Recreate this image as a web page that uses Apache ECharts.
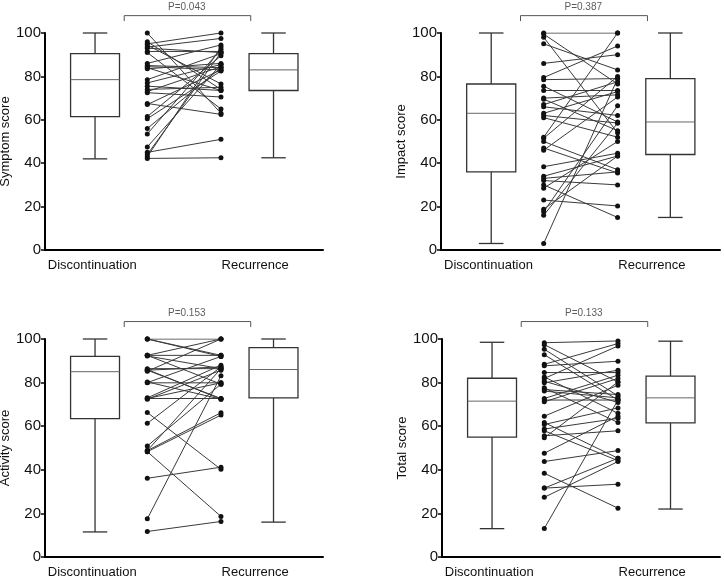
<!DOCTYPE html>
<html>
<head>
<meta charset="utf-8">
<script src="https://cdn.jsdelivr.net/npm/echarts@6/dist/echarts.min.js"></script>
<style>
html,body{margin:0;padding:0;background:#fff;}
#chart{width:724px;height:579px;}
</style>
</head>
<body>
<div id="chart"></div>
<script>
// ---- data ----
const categories = ['Discontinuation', 'Recurrence'];
const yTitles = ['Symptom score', 'Impact score', 'Activity score', 'Total score'];
const pLabels = ['P=0.043', 'P=0.387', 'P=0.153', 'P=0.133'];
const yTicks = [0, 20, 40, 60, 80, 100];

// box stats [min, Q1, median, Q3, max] for Discontinuation, Recurrence
const symptomBox = [[42, 61.5, 78.5, 90.5, 100], [42.5, 73.5, 83, 90.5, 100]];
const impactBox = [[3, 36, 63, 76.5, 100], [15, 44, 59, 79, 100]];
const activityBox = [[11.5, 63.5, 85, 92, 100], [16, 73, 86, 96, 100]];
const totalBox = [[13, 55, 71.5, 82, 98.5], [22, 61.5, 73, 83, 99]];

// paired individual values
const symptomDisc = [100, 96, 95, 94.5, 93.5, 93, 91.5, 91, 86, 85, 84.5, 84, 83.5, 78.5, 77, 75.5, 74, 73, 72.5, 67.5, 67, 61.5, 60.5, 56, 53.5, 47.5, 45, 44, 43, 42.2];
const symptomRec  = [63, 74, 100, 76.5, 97.5, 91, 91.5, 65, 94.5, 84, 83, 73.5, 86, 90.5, 85.5, 73.5, 75, 84.5, 70.5, 62.5, 83, 89.5, 82.5, 84, 92.5, 85.5, 51, 91, 93.5, 42.5];

const impactDisc = [100, 99.5, 98, 95, 86, 79.5, 78.5, 75.5, 73.5, 70, 69.5, 67, 66, 63, 62, 61, 52, 51.5, 50, 47, 46, 38.4, 34, 33, 32, 30, 28.5, 23, 18.8, 17.6, 16, 3];
const impactRec  = [100, 76.5, 54, 83, 90, 94, 79, 59, 73.5, 71.5, 55, 77.5, 62, 73, 58.5, 52, 100, 80, 37, 35.5, 70.5, 44.6, 43.3, 36, 30, 15, 50, 20.3, 43.3, 66.5, 58.5, 79];

const activityDisc = [100, 100, 100, 92.5, 92.5, 92.2, 92.5, 86.4, 85.7, 85.2, 85.7, 86, 80.3, 79.9, 80, 73, 72.7, 72.4, 72.7, 66.3, 61.3, 50.9, 48.8, 48.3, 48.8, 48.3, 36.1, 17.5, 11.7];
const activityRec  = [100, 92.5, 92, 100, 92.5, 86.4, 79.3, 86.4, 72.7, 100, 87.2, 72.4, 72.4, 79.9, 92, 88, 72.7, 85.7, 79.9, 40.2, 87.2, 79.3, 66.2, 65.1, 86.4, 18.6, 41.2, 83.1, 16.3];

const totalDisc = [98.3, 97.4, 95.3, 92.8, 88.4, 87.7, 84.6, 82.6, 81.9, 80.6, 79.9, 77.6, 76.8, 76.1, 72.7, 72, 71.2, 64.6, 61.7, 60.8, 58.7, 57.9, 55.6, 54.7, 47.6, 43.8, 38.4, 31.6, 31.6, 27.4, 13.1];
const totalRec  = [99.1, 80.3, 73.9, 72, 97.9, 89.8, 84.6, 65.9, 96.8, 70.9, 85.7, 61.7, 74.5, 73, 83.4, 72, 81.9, 78.8, 45.3, 68.4, 63.6, 44.2, 57.9, 80.3, 64.6, 48.8, 22.4, 33.4, 45.3, 43.8, 72];

const boxes = [symptomBox, impactBox, activityBox, totalBox];
const discs = [symptomDisc, impactDisc, activityDisc, totalDisc];
const recs = [symptomRec, impactRec, activityRec, totalRec];

// ---- layout ----
const grids = [
  {left: 45, top: 33, width: 278, height: 217, outerBoundsMode: 'none'},
  {left: 441, top: 33, width: 279, height: 217, outerBoundsMode: 'none'},
  {left: 45, top: 339, width: 278, height: 218, outerBoundsMode: 'none'},
  {left: 442, top: 339, width: 278, height: 218, outerBoundsMode: 'none'}
];
const boxX = [18, 82.2];
const pairX = [36.8, 63.3];
const labelX = [17, 75.6];
const boxHalf = 8.8;
const FONT = "'Liberation Sans', Arial, sans-serif";

const xAxes = [], yAxes = [], series = [];
grids.forEach((g, i) => {
  xAxes.push({
    gridIndex: i, type: 'value', min: 0, max: 100,
    axisLine: {show: true, lineStyle: {color: '#000', width: 2}},
    axisTick: {show: false},
    splitLine: {show: false},
    axisLabel: {
      show: true, customValues: labelX, margin: 9,
      fontSize: 13, color: '#111', fontFamily: FONT,
      formatter: v => (v < 50 ? categories[0] : categories[1])
    }
  });
  yAxes.push({
    gridIndex: i, type: 'value', min: 0, max: 100, interval: 20,
    name: yTitles[i], nameLocation: 'middle', nameGap: 29,
    nameTextStyle: {fontSize: 13, color: '#111', fontFamily: FONT},
    axisLine: {show: true, lineStyle: {color: '#000', width: 2}},
    axisTick: {show: true, length: 4, inside: false, lineStyle: {color: '#000', width: 1.5}},
    splitLine: {show: false},
    axisLabel: {fontSize: 15, color: '#111', margin: 4, fontFamily: FONT,
      formatter: v => (yTicks.indexOf(v) >= 0 ? String(v) : '')}
  });

  // boxes
  series.push({
    type: 'custom', xAxisIndex: i, yAxisIndex: i, clip: false, silent: true, z: 2,
    data: boxes[i].map((b, k) => [boxX[k]].concat(b)),
    renderItem: function (params, api) {
      const x = api.value(0);
      const hw = api.size([boxHalf, 0])[0];
      const cw = hw / 2;
      const pMin = api.coord([x, api.value(1)]);
      const pQ1 = api.coord([x, api.value(2)]);
      const pMed = api.coord([x, api.value(3)]);
      const pQ3 = api.coord([x, api.value(4)]);
      const pMax = api.coord([x, api.value(5)]);
      const st = {stroke: '#333', lineWidth: 1.3, fill: null};
      return {
        type: 'group',
        children: [
          {type: 'line', shape: {x1: pMin[0], y1: pMin[1], x2: pQ1[0], y2: pQ1[1]}, style: st},
          {type: 'line', shape: {x1: pQ3[0], y1: pQ3[1], x2: pMax[0], y2: pMax[1]}, style: st},
          {type: 'line', shape: {x1: pMin[0] - cw, y1: pMin[1], x2: pMin[0] + cw, y2: pMin[1]}, style: st},
          {type: 'line', shape: {x1: pMax[0] - cw, y1: pMax[1], x2: pMax[0] + cw, y2: pMax[1]}, style: st},
          {type: 'rect', shape: {x: pQ3[0] - hw, y: pQ3[1], width: hw * 2, height: pQ1[1] - pQ3[1]},
            style: {stroke: '#333', lineWidth: 1.3, fill: '#fff'}},
          {type: 'line', shape: {x1: pMed[0] - hw, y1: pMed[1], x2: pMed[0] + hw, y2: pMed[1]},
            style: {stroke: '#666', lineWidth: 1}}
        ]
      };
    }
  });

  // paired lines
  const d = discs[i], r = recs[i];
  for (let k = 0; k < d.length; k++) {
    series.push({
      type: 'line', xAxisIndex: i, yAxisIndex: i, silent: true, animation: false, z: 3,
      data: [[pairX[0], d[k]], [pairX[1], r[k]]],
      symbol: 'circle', symbolSize: 5, showSymbol: true,
      itemStyle: {color: '#111', borderWidth: 0},
      lineStyle: {color: '#3a3a3a', width: 1}
    });
  }

  // significance bracket
  series.push({
    type: 'line', xAxisIndex: i, yAxisIndex: i, silent: true, clip: false, z: 3,
    data: [[28.5, 105.5], [28.5, 108], [74, 108], [74, 105.5]],
    symbol: 'none', lineStyle: {color: '#555', width: 1}
  });
  series.push({
    type: 'scatter', xAxisIndex: i, yAxisIndex: i, silent: true, clip: false, z: 4,
    data: [[51, 112]], symbolSize: 2, itemStyle: {color: 'rgba(0,0,0,0)'},
    label: {show: true, position: 'inside', formatter: pLabels[i], fontSize: 10,
      color: '#333', fontFamily: FONT}
  });
});

const chart = echarts.init(document.getElementById('chart'), null, {renderer: 'canvas'});
chart.setOption({
  animation: false,
  backgroundColor: '#fff',
  textStyle: {fontFamily: FONT},
  grid: grids,
  xAxis: xAxes,
  yAxis: yAxes,
  series: series
});
</script>
</body>
</html>
